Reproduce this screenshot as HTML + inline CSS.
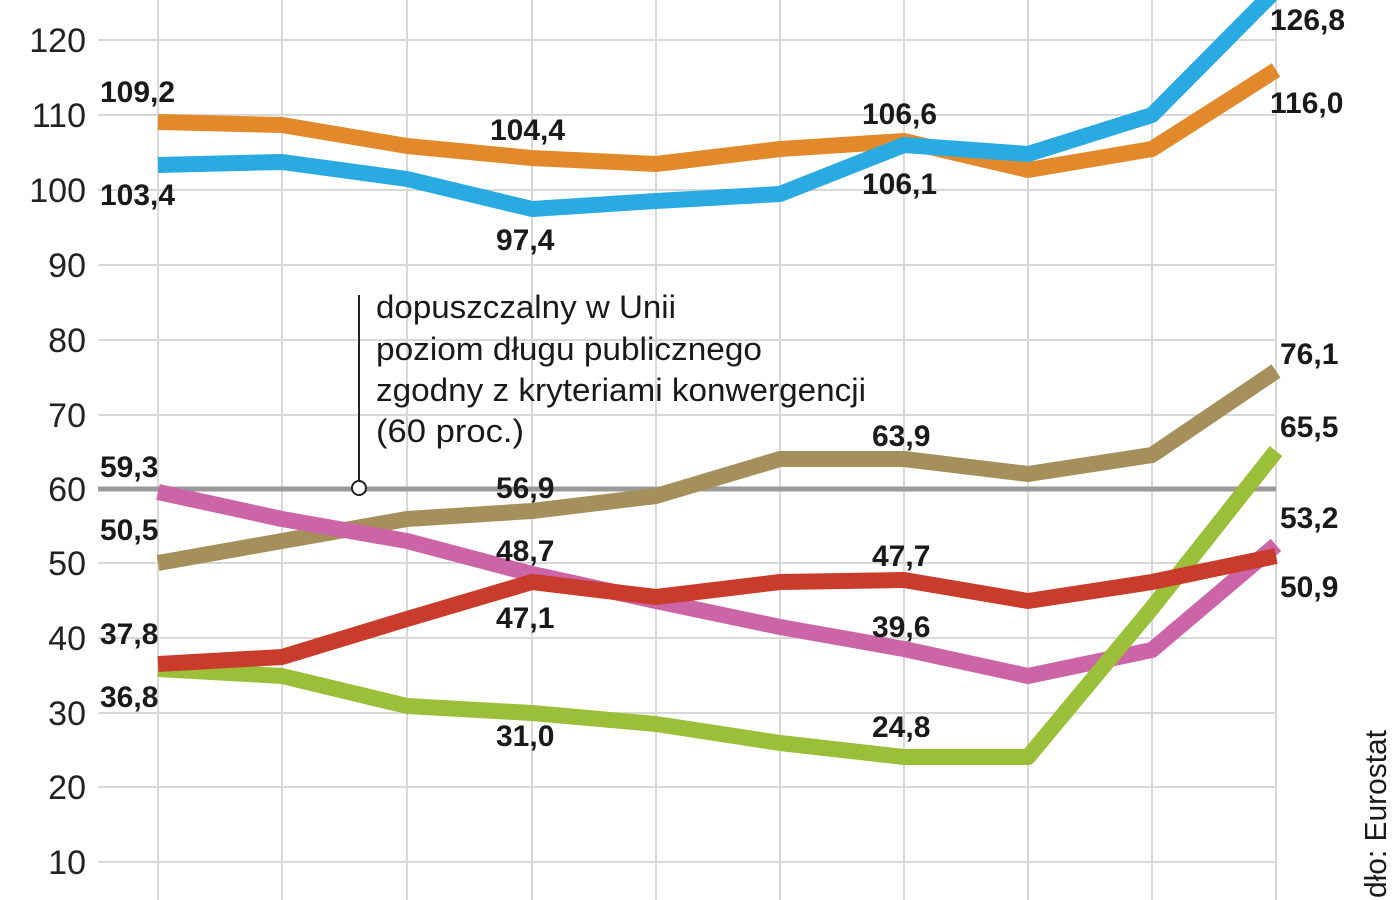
<!DOCTYPE html>
<html><head><meta charset="utf-8"><style>
html,body{margin:0;padding:0;background:#fff;width:1400px;height:900px;overflow:hidden}
svg{display:block}
text{font-family:"Liberation Sans Narrow","Liberation Sans",sans-serif}
.t{font-size:34px;fill:#222}
.l{font-size:30px;font-weight:bold;fill:#1a1a1a}
.a{font-size:32px;fill:#1a1a1a}
</style></head><body>
<svg width="1400" height="900" viewBox="0 0 1400 900">
<g stroke="#d8d8d8" stroke-width="2">
<line x1="98" y1="40" x2="1276" y2="40"/><line x1="98" y1="115" x2="1276" y2="115"/>
<line x1="98" y1="190" x2="1276" y2="190"/><line x1="98" y1="265" x2="1276" y2="265"/>
<line x1="98" y1="340" x2="1276" y2="340"/><line x1="98" y1="415" x2="1276" y2="415"/>
<line x1="98" y1="563" x2="1276" y2="563"/><line x1="98" y1="638" x2="1276" y2="638"/>
<line x1="98" y1="713" x2="1276" y2="713"/><line x1="98" y1="787" x2="1276" y2="787"/>
<line x1="98" y1="862" x2="1276" y2="862"/>
<line x1="158" y1="0" x2="158" y2="900"/><line x1="282" y1="0" x2="282" y2="900"/>
<line x1="407" y1="0" x2="407" y2="900"/><line x1="532" y1="0" x2="532" y2="900"/>
<line x1="656" y1="0" x2="656" y2="900"/><line x1="780" y1="0" x2="780" y2="900"/>
<line x1="904" y1="0" x2="904" y2="900"/><line x1="1028" y1="0" x2="1028" y2="900"/>
<line x1="1152" y1="0" x2="1152" y2="900"/><line x1="1276" y1="0" x2="1276" y2="900"/>
</g>
<line x1="98" y1="489" x2="1276" y2="489" stroke="#9a9a9a" stroke-width="5"/>
<g class="t" text-anchor="end">
<text x="86" y="52">120</text><text x="86" y="127">110</text><text x="86" y="202">100</text>
<text x="86" y="277">90</text><text x="86" y="352">80</text><text x="86" y="427">70</text>
<text x="86" y="501">60</text><text x="86" y="575">50</text><text x="86" y="650">40</text>
<text x="86" y="725">30</text><text x="86" y="799">20</text><text x="86" y="874">10</text>
</g>
<g fill="none" stroke-width="16" stroke-linejoin="round">
<polyline stroke="#e28a2b" points="158,122 282,125 407,146 532,158 656,164 780,149 904,141 1028,170 1152,149 1276,70"/>
<polyline stroke="#29abe2" points="158,165 282,162 407,179 532,209 656,201 780,194 904,145 1028,154 1152,115 1276,-10"/>
<polyline stroke="#a58f5a" points="158,563 282,541 407,519 532,511 656,496 780,459 904,459 1028,474 1152,455 1276,371"/>
<polyline stroke="#cc64a8" points="158,492 282,519 407,541 532,574 656,601 780,627 904,649 1028,676 1152,650 1276,545"/>
<polyline stroke="#9bbf38" points="158,669 282,676 407,706 532,713 656,724 780,743 904,757 1028,757 1152,608 1276,451"/>
<polyline stroke="#c93b2a" points="158,664 282,657 407,619 532,582 656,597 780,582 904,580 1028,601 1152,582 1276,556"/>
</g>
<line x1="359" y1="295" x2="359" y2="486" stroke="#222" stroke-width="2"/>
<circle cx="359" cy="488" r="7" fill="#fff" stroke="#222" stroke-width="2"/>
<g class="a">
<text x="376" y="318" textLength="300" lengthAdjust="spacingAndGlyphs">dopuszczalny w Unii</text>
<text x="376" y="360" textLength="386" lengthAdjust="spacingAndGlyphs">poziom długu publicznego</text>
<text x="376" y="401" textLength="490" lengthAdjust="spacingAndGlyphs">zgodny z kryteriami konwergencji</text>
<text x="376" y="442" textLength="148" lengthAdjust="spacingAndGlyphs">(60 proc.)</text>
</g>
<g class="l">
<text x="100" y="102">109,2</text><text x="100" y="205">103,4</text>
<text x="490" y="140">104,4</text><text x="496" y="250">97,4</text>
<text x="862" y="124">106,6</text><text x="862" y="194">106,1</text>
<text x="1270" y="30">126,8</text><text x="1270" y="113">116,0</text>
<text x="1280" y="364">76,1</text><text x="1280" y="437">65,5</text>
<text x="872" y="446">63,9</text><text x="496" y="498">56,9</text>
<text x="100" y="477">59,3</text><text x="100" y="540">50,5</text>
<text x="496" y="561">48,7</text><text x="496" y="628">47,1</text>
<text x="872" y="566">47,7</text><text x="872" y="637">39,6</text>
<text x="1280" y="528">53,2</text><text x="1280" y="597">50,9</text>
<text x="100" y="644">37,8</text><text x="100" y="707">36,8</text>
<text x="496" y="746">31,0</text><text x="872" y="737">24,8</text>
</g>
<text transform="translate(1386,898) rotate(-90)" style="font-size:31px;fill:#1a1a1a" textLength="168" lengthAdjust="spacingAndGlyphs">dło: Eurostat</text>
</svg>
</body></html>
